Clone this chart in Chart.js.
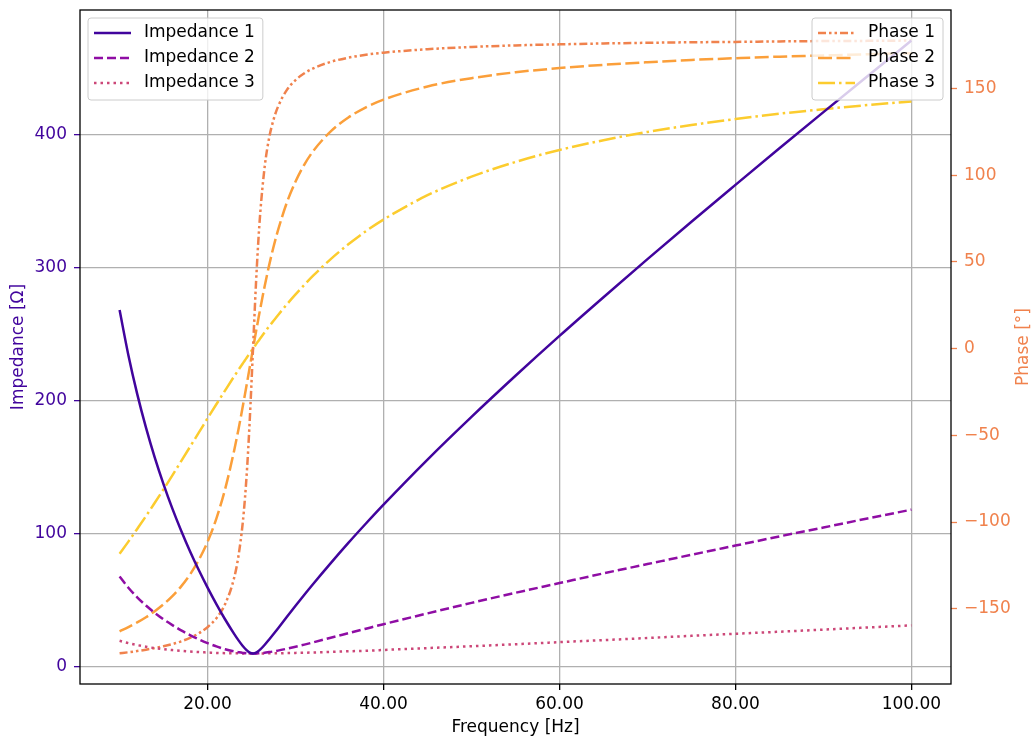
<!DOCTYPE html>
<html>
<head>
<meta charset="utf-8">
<script src="https://cdn.jsdelivr.net/npm/chart.js@4/dist/chart.umd.min.js"></script>
<style>
  html, body { margin: 0; padding: 0; background: #fff; }
  #wrap { width: 1032px; height: 738px; }
</style>
</head>
<body>
<div id="wrap"><canvas id="chart" width="1032" height="738"></canvas></div>
<script>
// frequency samples [Hz]
const freqs = [10, 11, 12, 13, 14, 15, 16, 17, 18, 19, 20, 21, 22, 23, 23.5, 24, 24.25, 24.5, 24.75, 25, 25.16, 25.25, 25.5, 25.75, 26, 26.5, 27, 27.5, 28, 29, 30, 31, 32, 34, 36, 38, 40, 45, 50, 55, 60, 65, 70, 75, 80, 85, 90, 95, 100];

// impedance [Ohm]
const impedance1 = [268.2, 234.3, 205.2, 179.8, 157.3, 137.2, 118.9, 102.3, 86.9, 72.7, 59.5, 47.1, 35.5, 24.9, 20.0, 15.6, 13.7, 12.1, 10.8, 10.1, 10.0, 10.0, 10.6, 11.6, 13.0, 16.5, 20.5, 24.6, 28.8, 37.4, 45.8, 54.1, 62.2, 77.9, 93.1, 107.7, 121.9, 155.8, 187.9, 218.8, 248.8, 277.9, 306.5, 334.7, 362.4, 389.9, 417.1, 444.1, 470.9];
const impedance2 = [67.8, 59.4, 52.2, 46.0, 40.5, 35.6, 31.3, 27.3, 23.8, 20.6, 17.7, 15.3, 13.1, 11.5, 10.9, 10.4, 10.3, 10.1, 10.1, 10.0, 10.0, 10.0, 10.0, 10.1, 10.2, 10.5, 11.0, 11.5, 12.1, 13.5, 15.0, 16.6, 18.3, 21.8, 25.2, 28.6, 32.0, 40.1, 48.0, 55.6, 62.9, 70.2, 77.2, 84.2, 91.1, 98.0, 104.7, 111.5, 118.1];
const impedance3 = [19.5, 17.7, 16.3, 15.0, 14.0, 13.2, 12.5, 11.9, 11.4, 11.0, 10.7, 10.4, 10.2, 10.1, 10.1, 10.0, 10.0, 10.0, 10.0, 10.0, 10.0, 10.0, 10.0, 10.0, 10.0, 10.0, 10.1, 10.1, 10.1, 10.3, 10.4, 10.5, 10.7, 11.1, 11.6, 12.0, 12.6, 14.0, 15.4, 16.9, 18.5, 20.0, 21.6, 23.2, 24.8, 26.3, 27.9, 29.5, 31.1];

// phase [deg]
const phase1 = [-175.7, -175.1, -174.4, -173.6, -172.7, -171.6, -170.4, -168.8, -166.8, -164.2, -160.6, -155.5, -147.3, -132.6, -120.0, -100.4, -86.3, -68.3, -45.6, -18.9, -0.6, 9.8, 37.2, 60.4, 79.0, 105.2, 121.5, 132.0, 139.4, 149.0, 154.8, 158.7, 161.5, 165.3, 167.7, 169.4, 170.6, 172.6, 173.9, 174.8, 175.4, 175.9, 176.3, 176.6, 176.8, 177.1, 177.3, 177.4, 177.6];
const phase2 = [-163.0, -160.6, -157.9, -154.9, -151.4, -147.4, -142.7, -137.1, -130.3, -121.9, -111.4, -98.0, -80.9, -59.3, -46.9, -33.4, -26.4, -19.3, -12.0, -4.8, -0.1, 2.4, 9.6, 16.5, 23.3, 36.2, 48.1, 58.7, 68.1, 84.0, 96.3, 106.1, 113.8, 125.2, 133.2, 139.1, 143.5, 151.1, 155.9, 159.3, 161.7, 163.6, 165.1, 166.4, 167.4, 168.3, 169.0, 169.7, 170.3];
const phase3 = [-118.3, -111.3, -104.0, -96.6, -88.9, -81.1, -73.1, -64.9, -56.7, -48.5, -40.2, -32.1, -24.1, -16.2, -12.4, -8.6, -6.7, -4.9, -3.0, -1.2, 0.0, 0.6, 2.4, 4.2, 5.9, 9.4, 12.8, 16.0, 19.2, 25.4, 31.2, 36.7, 42.0, 51.6, 60.1, 67.7, 74.4, 88.4, 99.1, 107.6, 114.5, 120.1, 124.9, 128.9, 132.3, 135.4, 138.0, 140.4, 142.5];

const impedanceNames = ['Impedance 1', 'Impedance 2', 'Impedance 3'];
const phaseNames = ['Phase 1', 'Phase 2', 'Phase 3'];

const freqTicks = [20, 40, 60, 80, 100];
const impedanceTicks = [0, 100, 200, 300, 400];
const phaseTicks = [-150, -100, -50, 0, 50, 100, 150];

const impColors = ['#41049d', '#8f0da4', '#cc4778'];
const phaseColors = ['#f0824d', '#fb9f3a', '#fccc2e'];
const impDashes = [[], [9, 4], [2.5, 4]];
const phaseDashes = [[8, 3, 2.5, 3, 2.5, 3], [14, 4.5], [17, 4, 2.5, 4]];

const FONT_FAMILY = '"DejaVu Sans", sans-serif';
const FONT_SIZE = 17;
const FONT = `${FONT_SIZE}px ${FONT_FAMILY}`;
const GRID = '#b0b0b0';

function toPoints(ys) {
    return freqs.map((f, i) => ({ x: f, y: ys[i] }));
}

function fmtMinus(v) {
    return v < 0 ? '\u2212' + Math.abs(v) : String(v);
}

function drawLegend(ctx, names, colors, dashes, x, y, alignRight) {
    ctx.font = FONT;
    const textW = Math.max(...names.map(n => ctx.measureText(n).width));
    const w = 6 + 37 + 13 + textW + 8;
    const h = 82;
    const left = alignRight ? x - w : x;
    ctx.beginPath();
    ctx.roundRect(left, y, w, h, 3);
    ctx.fillStyle = 'rgba(255,255,255,0.8)';
    ctx.fill();
    ctx.setLineDash([]);
    ctx.strokeStyle = '#cccccc';
    ctx.lineWidth = 1;
    ctx.stroke();
    names.forEach((n, i) => {
        const cy = y + 15 + i * 25;
        ctx.beginPath();
        ctx.setLineDash(dashes[i]);
        ctx.strokeStyle = colors[i];
        ctx.lineWidth = 2.5;
        ctx.moveTo(left + 6, cy);
        ctx.lineTo(left + 43, cy);
        ctx.stroke();
        ctx.setLineDash([]);
        ctx.fillStyle = '#000';
        ctx.textAlign = 'left';
        ctx.textBaseline = 'middle';
        ctx.fillText(n, left + 56, cy);
    });
}

const overlay = {
    id: 'overlay',
    afterDraw(chart) {
        const { ctx, chartArea: a } = chart;
        ctx.save();
        // frame (spines)
        ctx.setLineDash([]);
        ctx.strokeStyle = '#000';
        ctx.lineWidth = 1.3;
        ctx.strokeRect(a.left, a.top, a.right - a.left, a.bottom - a.top);

        drawLegend(ctx, impedanceNames, impColors, impDashes, a.left + 8, a.top + 8, false);
        drawLegend(ctx, phaseNames, phaseColors, phaseDashes, a.right - 8, a.top + 8, true);

        // right axis title, reading bottom to top
        ctx.translate(1024, (a.top + a.bottom) / 2);
        ctx.rotate(-Math.PI / 2);
        ctx.font = FONT;
        ctx.fillStyle = phaseColors[0];
        ctx.textAlign = 'center';
        ctx.textBaseline = 'middle';
        ctx.fillText('Phase [°]', 0, 0);
        ctx.restore();
    }
};

const datasets = [
    ...[impedance1, impedance2, impedance3].map((ys, i) => ({
        label: impedanceNames[i],
        data: toPoints(ys),
        yAxisID: 'y',
        borderColor: impColors[i],
        borderDash: impDashes[i],
        borderWidth: 2.5,
        pointRadius: 0,
        cubicInterpolationMode: 'monotone',
        fill: false
    })),
    ...[phase1, phase2, phase3].map((ys, i) => ({
        label: phaseNames[i],
        data: toPoints(ys),
        yAxisID: 'y2',
        borderColor: phaseColors[i],
        borderDash: phaseDashes[i],
        borderWidth: 2.5,
        pointRadius: 0,
        cubicInterpolationMode: 'monotone',
        fill: false
    }))
];

new Chart(document.getElementById('chart'), {
    type: 'line',
    data: { datasets },
    plugins: [overlay],
    options: {
        responsive: false,
        animation: false,
        devicePixelRatio: 1,
        layout: { padding: { top: 10, left: 0, right: 0, bottom: 0 } },
        plugins: { legend: { display: false }, tooltip: { enabled: false } },
        scales: {
            x: {
                type: 'linear',
                min: 5.5,
                max: 104.5,
                afterBuildTicks: s => { s.ticks = freqTicks.map(v => ({ value: v })); },
                afterFit: s => { s.height = 54; s.paddingLeft = 0; s.paddingRight = 0; },
                grid: { color: GRID, lineWidth: 1.3, tickColor: '#000', tickLength: 6, tickWidth: 1.3 },
                border: { display: false },
                ticks: {
                    color: '#000',
                    font: { family: FONT_FAMILY, size: FONT_SIZE },
                    padding: 4,
                    maxRotation: 0,
                    autoSkip: false,
                    callback: v => v.toFixed(2)
                },
                title: {
                    display: true,
                    text: 'Frequency [Hz]',
                    color: '#000',
                    font: { family: FONT_FAMILY, size: FONT_SIZE, lineHeight: 1 },
                    padding: { top: 0, bottom: 2 }
                }
            },
            y: {
                position: 'left',
                min: -13.0,
                max: 493.9,
                afterBuildTicks: s => { s.ticks = impedanceTicks.map(v => ({ value: v })); },
                afterFit: s => { s.width = 80; s.paddingTop = 0; s.paddingBottom = 0; },
                grid: { color: GRID, lineWidth: 1.3, tickColor: impColors[0], tickLength: 6, tickWidth: 1.3 },
                border: { display: false },
                ticks: {
                    color: impColors[0],
                    font: { family: FONT_FAMILY, size: FONT_SIZE },
                    padding: 7,
                    autoSkip: false,
                    callback: v => String(v)
                },
                title: {
                    display: true,
                    text: 'Impedance [\u03A9]',
                    color: impColors[0],
                    font: { family: FONT_FAMILY, size: FONT_SIZE, lineHeight: 1 },
                    padding: { top: 10, bottom: 0 }
                }
            },
            y2: {
                position: 'right',
                min: -193.4,
                max: 195.2,
                afterBuildTicks: s => { s.ticks = phaseTicks.map(v => ({ value: v })); },
                afterFit: s => { s.width = 81; s.paddingTop = 0; s.paddingBottom = 0; },
                grid: { drawOnChartArea: false, tickColor: phaseColors[0], tickLength: 6, tickWidth: 1.3 },
                border: { display: false },
                ticks: {
                    color: phaseColors[0],
                    font: { family: FONT_FAMILY, size: FONT_SIZE },
                    padding: 7,
                    autoSkip: false,
                    callback: v => fmtMinus(v)
                }
            }
        }
    }
});
</script>
</body>
</html>
